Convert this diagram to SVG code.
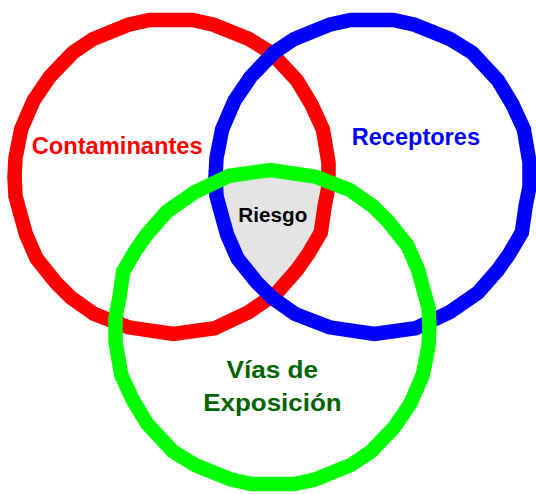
<svg xmlns="http://www.w3.org/2000/svg" xmlns:xlink="http://www.w3.org/1999/xlink" width="536" height="494" viewBox="0 0 536 494">
<style>
.ring{fill:none;stroke-width:14.5;stroke-linejoin:miter;stroke-miterlimit:10}
.lbl{font-family:"Liberation Sans",Arial,sans-serif;font-weight:bold}
</style>
<defs>
<path id="shape" d="M-22,-157 L21.1,-157 L42.1,-152.2 L77.5,-137.9 L99.6,-124.4 L125.4,-96.7 L139.8,-72.8 L151.3,-47.9 L157,-14.4 L157,9.6 L153.2,28.7 L149.3,55.5 L136.9,76.6 L125.4,92.9 L105.3,115.8 L77.5,135 L43.1,151.3 L1.9,157 L-43.1,150.3 L-77.5,136.9 L-100.5,120.6 L-115.8,105.3 L-135,81.4 L-145.5,57.4 L-151.3,36.4 L-156,19.1 L-157,0 L-156,-19.1 L-150.3,-47.9 L-137.9,-76.6 L-121.6,-100.5 L-98.6,-124.4 L-78.5,-137.9 L-43.1,-152.2 Z"/>
<clipPath id="cR"><use xlink:href="#shape" transform="translate(171.5,177)"/></clipPath>
<clipPath id="cB"><use xlink:href="#shape" transform="translate(372.5,177)"/></clipPath>
<clipPath id="cG"><use xlink:href="#shape" transform="translate(272.5,327) rotate(180)"/></clipPath>
</defs>
<rect width="536" height="494" fill="#ffffff"/>
<g id="riesgo">
<g clip-path="url(#cR)"><g clip-path="url(#cB)"><rect x="150" y="140" width="250" height="220" fill="#e4e4e4" clip-path="url(#cG)"/></g></g>
<text class="lbl" x="238.3" y="221.7" font-size="20" textLength="69" lengthAdjust="spacingAndGlyphs" fill="#000000">Riesgo</text>
</g>
<g id="contaminantes">
<use xlink:href="#shape" class="ring" stroke="#ff0000" transform="translate(171.5,177)"/>
<text class="lbl" x="31.7" y="154" font-size="24" textLength="171" lengthAdjust="spacingAndGlyphs" fill="#ff0000">Contaminantes</text>
</g>
<g id="receptores">
<use xlink:href="#shape" class="ring" stroke="#0000ff" transform="translate(372.5,177)"/>
<text class="lbl" x="351.7" y="144.7" font-size="23" textLength="128.3" lengthAdjust="spacingAndGlyphs" fill="#0000ff">Receptores</text>
</g>
<g id="vias">
<use xlink:href="#shape" class="ring" stroke="#00ff00" transform="translate(272.5,327) rotate(180)"/>
<text class="lbl" x="226.5" y="377.5" font-size="23" textLength="91.6" lengthAdjust="spacingAndGlyphs" fill="#006400">Vías de</text>
<text class="lbl" x="203.3" y="410.7" font-size="23" textLength="138.3" lengthAdjust="spacingAndGlyphs" fill="#006400">Exposición</text>
</g>
<g id="connectors"></g>
</svg>
